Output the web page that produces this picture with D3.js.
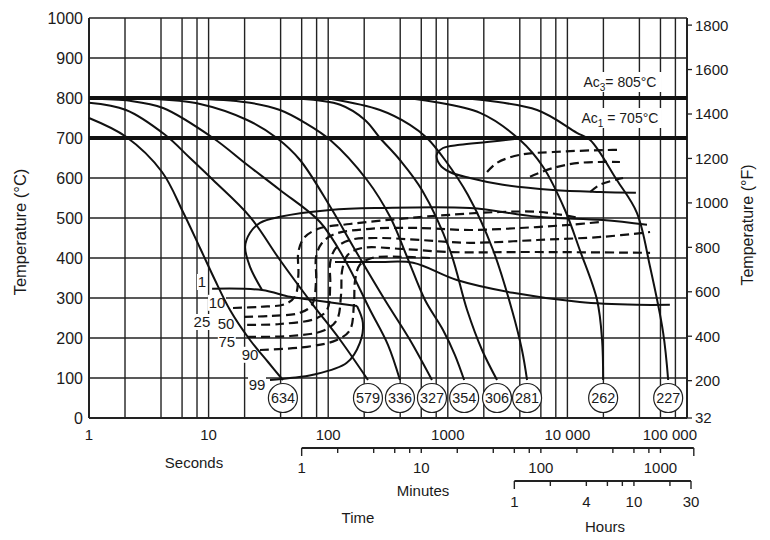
<!DOCTYPE html>
<html><head><meta charset="utf-8">
<script src="https://cdn.jsdelivr.net/npm/d3@7"></script>
<style>
body{margin:0;background:#fff;}
text{font-family:"Liberation Sans",Arial,Helvetica,sans-serif;fill:#1a1a1a;}
</style></head><body>
<svg id="c" width="770" height="540"></svg>
<script>
// ---------------- DATA ----------------
const tempTicksC = [0,100,200,300,400,500,600,700,800,900,1000];
const tempTicksF = [1800,1600,1400,1200,1000,800,600,400,200,32];
const secondsTicks = [1,10,100,1000,10000,100000];
const secondsLabels = ["1","10","100","1000","10 000","100 000"];
const gridMultipliers = [1,2,4,6,8];
const minuteTicks = [1,2,4,6,8,10,20,40,60,80,100,200,400,600,800,1000,1900];
const minuteLabels = [1,10,100,1000];
const hourTicks = [1,2,4,6,8,10,20,30];
const hourLabels = [1,4,10,30];
const ac3Temp = 800, ac1Temp = 700;
const ac3Label = ["Ac","3","= 805°C"];
const ac1Label = ["Ac","1"," = 705°C"];

// cooling curves [seconds, °C]
const cool634 = [[1,750],[2.04,703],[4.08,615],[6.11,515],[8.48,425],[11.3,345],[15.1,270],[22.2,195],[31.4,140],[41.8,95]];
const cool579 = [[1,788],[2.04,770],[4.32,708],[6.99,650],[10.9,595],[22.2,503],[39.5,395],[74.6,283],[126,195],[215,95]];
const cool336 = [[1,798],[2.2,793],[4.16,775],[10.9,700],[21,633],[39.5,570],[85.4,490],[138,395],[224,270],[316,183],[398,95]];
const cool327 = [[3.24,798],[8.48,785],[21,745],[37.2,700],[58.1,645],[104,528],[168,420],[298,295],[483,195],[737,95]];
const cool354 = [[8.48,798],[22.2,788],[39.5,770],[64,738],[104,695],[211,595],[329,503],[456,403],[645,295],[912,220],[1145,158],[1370,95]];
const cool306 = [[58.1,798],[126,783],[203,745],[271,700],[398,645],[608,570],[1040,420],[1450,270],[1933,170],[2580,95]];
const cool281 = [[104,798],[271,770],[483,733],[670,700],[948,645],[1470,558],[2390,420],[3440,270],[4170,170],[4600,95]];
const cool262 = [[513,798],[1860,763],[4020,695],[6250,628],[9540,520],[12700,420],[17700,295],[19500,195],[19900,95]];
const cool227 = [[1530,798],[5580,770],[12000,713],[15500,695],[25900,595],[38100,513],[49100,378],[63200,213],[69600,95]];
const coolingCurves = [cool634,cool579,cool336,cool327,cool354,cool306,cool281,cool262,cool227];
const hardness = ["634","579","336","327","354","306","281","262","227"];

// transformation lines [seconds, °C]
const ferriteStart = [[3790,698],[2130,690],[1260,683],[912,675],[809,658],[861,633],[1040,615],[1530,600],[2890,583],[7580,570],[18700,565],[37400,563]];
const ferriteDash1 = [[2130,615],[2580,638],[4020,658],[7580,665],[21500,670],[27500,670]];
const ferriteDash2 = [[4870,603],[7580,625],[12700,638],[27500,640]];
const ferriteDash3 = [[15500,565],[18700,583],[29200,600]];
const bainiteStart = [[28,320],[22.2,378],[20.2,428],[22.2,463],[26.9,488],[39.5,503],[104,520],[271,525],[1530,525],[5580,503],[19900,495],[46300,483]];
const bainiteEnd = [[114,390],[271,390],[513,388],[1190,345],[3500,313],[12700,290],[38100,283],[71900,283]];
const msLine = [[10.7,323],[28,320],[47.9,303],[74.6,295],[174,280]];
const mfLine = [[32.6,95],[47.9,100],[74.6,108],[143,138],[184,188],[195,238],[174,280]];
const pct10 = [[16,275],[26.9,278],[43.8,285],[53,305],[56.3,358],[56.3,415],[62.7,450],[82.5,473],[152,485],[398,498],[1040,508],[2730,515],[5900,515],[12700,500]];
const pct25 = [[19.8,253],[32.6,255],[58.1,263],[73.2,283],[79.2,345],[79.2,403],[89,438],[114,460],[224,473],[586,475],[1530,470],[4020,475],[10500,483],[18700,490]];
const pct50 = [[21,233],[39.5,235],[77.7,248],[97.7,270],[104,333],[104,390],[116,425],[152,445],[271,450],[586,445],[1530,438],[5580,445],[19900,453],[49100,465]];
const pct75 = [[21,203],[47.9,205],[90.7,218],[118,245],[128,308],[131,370],[146,408],[191,425],[398,423],[1040,415],[5580,415],[49100,413]];
const pct90 = [[26.9,170],[66.5,178],[118,195],[152,220],[164,283],[168,345],[184,383],[232,400],[398,403],[710,400]];
const pctLines = [pct10,pct25,pct50,pct75,pct90];
const pctLabels = ["1","10","25","50","75","90","99"];

// ---------------- DRAW ----------------
const svg = d3.select("#c");
const x = d3.scaleLog().domain([1,100000]).range([89,687]);
const y = d3.scaleLinear().domain([0,1000]).range([418,18]);
const X0 = x(1), X1 = x(100000);

const grid = svg.append("g");
const gridTimes = [];
for (let k=0;k<5;k++) gridMultipliers.forEach(m=>gridTimes.push(m*Math.pow(10,k)));
gridTimes.push(100000);
grid.selectAll(".v").data(gridTimes).join("line")
  .attr("x1",d=>x(d)).attr("x2",d=>x(d)).attr("y1",y(1000)).attr("y2",y(0))
  .attr("stroke","#222").attr("stroke-width",d=>(d===1||d===100000)?2:1.4);
grid.selectAll(".h").data(tempTicksC).join("line")
  .attr("x1",X0).attr("x2",X1).attr("y1",d=>y(d)).attr("y2",d=>y(d))
  .attr("stroke","#222").attr("stroke-width",d=>(d===0)?2.2:1.4);

// label backgrounds (mask the grid only)
const pctLabelPos = [[8.8,340],[11.75,288],[8.8,240],[14.0,235],[14.2,190],[22.2,158],[25.4,83]];
const bg = svg.append("g");
pctLabels.forEach((t,i)=>{
  const px = x(pctLabelPos[i][0]), py = y(pctLabelPos[i][1]);
  const w = t.length*8+2;
  bg.append("rect").attr("x",px-w/2).attr("y",py-8).attr("width",w).attr("height",16).attr("fill","#fff");
});
function acBg(T){
  const px = x(27500), py = y(T);
  bg.append("rect").attr("x",px-42).attr("y",py-10).attr("width",84).attr("height",20).attr("fill","#fff");
}
acBg(840); acBg(750);

// Ac lines
[ac3Temp,ac1Temp].forEach(t=>{
  svg.append("line").attr("x1",X0).attr("x2",X1).attr("y1",y(t)).attr("y2",y(t))
    .attr("stroke","#111").attr("stroke-width",4);
});

const line = d3.line().x(d=>x(d[0])).y(d=>y(d[1])).curve(d3.curveCatmullRom.alpha(0.5));
const curves = svg.append("g").attr("fill","none").attr("stroke","#111");

// dashed percentage lines
[ferriteDash1,ferriteDash2,ferriteDash3,...pctLines].forEach(p=>{
  curves.append("path").attr("d",line(p)).attr("stroke-width",2.2).attr("stroke-dasharray","9,5");
});
// solid transformation lines
[ferriteStart,bainiteStart,bainiteEnd,msLine,mfLine].forEach(p=>{
  curves.append("path").attr("d",line(p)).attr("stroke-width",2);
});
// cooling curves
coolingCurves.forEach(p=>{
  curves.append("path").attr("d",line(p)).attr("stroke-width",2);
});

// hardness circles
const circ = svg.append("g");
coolingCurves.forEach((p,i)=>{
  const cx = x(p[p.length-1][0]), cy = y(50);
  circ.append("circle").attr("cx",cx).attr("cy",cy).attr("r",14.5)
    .attr("fill","#fff").attr("stroke","#222").attr("stroke-width",1.2);
  circ.append("text").attr("x",cx).attr("y",cy).attr("dy","0.36em").attr("text-anchor","middle")
    .attr("font-size",14).attr("textLength",24).attr("lengthAdjust","spacingAndGlyphs").text(hardness[i]);
});

// percentage labels
const lab = svg.append("g");
pctLabels.forEach((t,i)=>{
  const px = x(pctLabelPos[i][0]), py = y(pctLabelPos[i][1]);
  lab.append("text").attr("x",px).attr("y",py).attr("dy","0.36em").attr("text-anchor","middle")
    .attr("font-size",15).text(t);
});

// Ac labels
function acLabel(parts, T){
  const px = x(27500), py = y(T);
  const t = svg.append("text").attr("x",px).attr("y",py).attr("dy","0.36em").attr("text-anchor","middle").attr("font-size",14);
  t.append("tspan").text(parts[0]);
  t.append("tspan").attr("font-size",10).attr("dy",4).text(parts[1]);
  t.append("tspan").attr("dy",-4).text(parts[2]);
}
acLabel(ac3Label, 840);
acLabel(ac1Label, 750);

// left axis labels
svg.append("g").selectAll("text").data(tempTicksC).join("text")
  .attr("x",83).attr("y",d=>y(d)).attr("dy","0.36em").attr("text-anchor","end")
  .attr("font-size",16).text(d=>d);
// right axis ticks + labels
const fy = f=>y((f-32)*5/9);
const rg = svg.append("g");
rg.selectAll("line").data(tempTicksF).join("line")
  .attr("x1",X1).attr("x2",X1+5).attr("y1",d=>fy(d)).attr("y2",d=>fy(d)).attr("stroke","#222").attr("stroke-width",1.3);
rg.selectAll("text").data(tempTicksF).join("text")
  .attr("x",X1+8).attr("y",d=>fy(d)).attr("dy","0.36em").attr("font-size",15).text(d=>d);

// axis titles
svg.append("text").attr("transform","translate(26,232) rotate(-90)").attr("text-anchor","middle")
  .attr("font-size",16.5).text("Temperature (°C)");
svg.append("text").attr("transform","translate(753,225) rotate(-90)").attr("text-anchor","middle")
  .attr("font-size",16).text("Temperature (°F)");

// seconds labels
svg.append("g").selectAll("text").data(secondsTicks).join("text")
  .attr("x",d=>x(d)).attr("y",440).attr("text-anchor",(d,i)=>i===secondsTicks.length-1?"end":"middle")
  .attr("dx",(d,i)=>i===secondsTicks.length-1?10:0)
  .attr("font-size",15).text((d,i)=>secondsLabels[i]);
svg.append("text").attr("x",194).attr("y",468).attr("text-anchor","middle").attr("font-size",15).text("Seconds");

// minutes axis
const mx = m=>x(m*60);
const ma = svg.append("g");
const mY = 448;
ma.append("line").attr("x1",mx(minuteTicks[0])).attr("x2",mx(minuteTicks[minuteTicks.length-1])).attr("y1",mY).attr("y2",mY)
  .attr("stroke","#222").attr("stroke-width",2);
ma.selectAll("line.t").data(minuteTicks).join("line").attr("class","t")
  .attr("x1",d=>mx(d)).attr("x2",d=>mx(d)).attr("y1",mY).attr("y2",(d,i)=>(i===0||i===minuteTicks.length-1)?mY+8:mY+5)
  .attr("stroke","#222").attr("stroke-width",1.4);
ma.selectAll("text").data(minuteLabels).join("text")
  .attr("x",d=>mx(d)).attr("y",473).attr("text-anchor","middle").attr("font-size",15).text(d=>d);
svg.append("text").attr("x",423).attr("y",496).attr("text-anchor","middle").attr("font-size",15).text("Minutes");

// hours axis
const hx = h=>x(h*3600);
const ha = svg.append("g");
const hY = 481;
ha.append("line").attr("x1",hx(hourTicks[0])).attr("x2",hx(hourTicks[hourTicks.length-1])).attr("y1",hY).attr("y2",hY)
  .attr("stroke","#222").attr("stroke-width",2);
ha.selectAll("line.t").data(hourTicks).join("line").attr("class","t")
  .attr("x1",d=>hx(d)).attr("x2",d=>hx(d)).attr("y1",hY).attr("y2",(d,i)=>(i===0||i===hourTicks.length-1)?hY+8:hY+5)
  .attr("stroke","#222").attr("stroke-width",1.4);
ha.selectAll("text").data(hourLabels).join("text")
  .attr("x",d=>hx(d)).attr("y",507).attr("text-anchor","middle").attr("font-size",15).text(d=>d);
svg.append("text").attr("x",605).attr("y",532).attr("text-anchor","middle").attr("font-size",15).text("Hours");
svg.append("text").attr("x",358).attr("y",523).attr("text-anchor","middle").attr("font-size",15).text("Time");
</script>
</body></html>
